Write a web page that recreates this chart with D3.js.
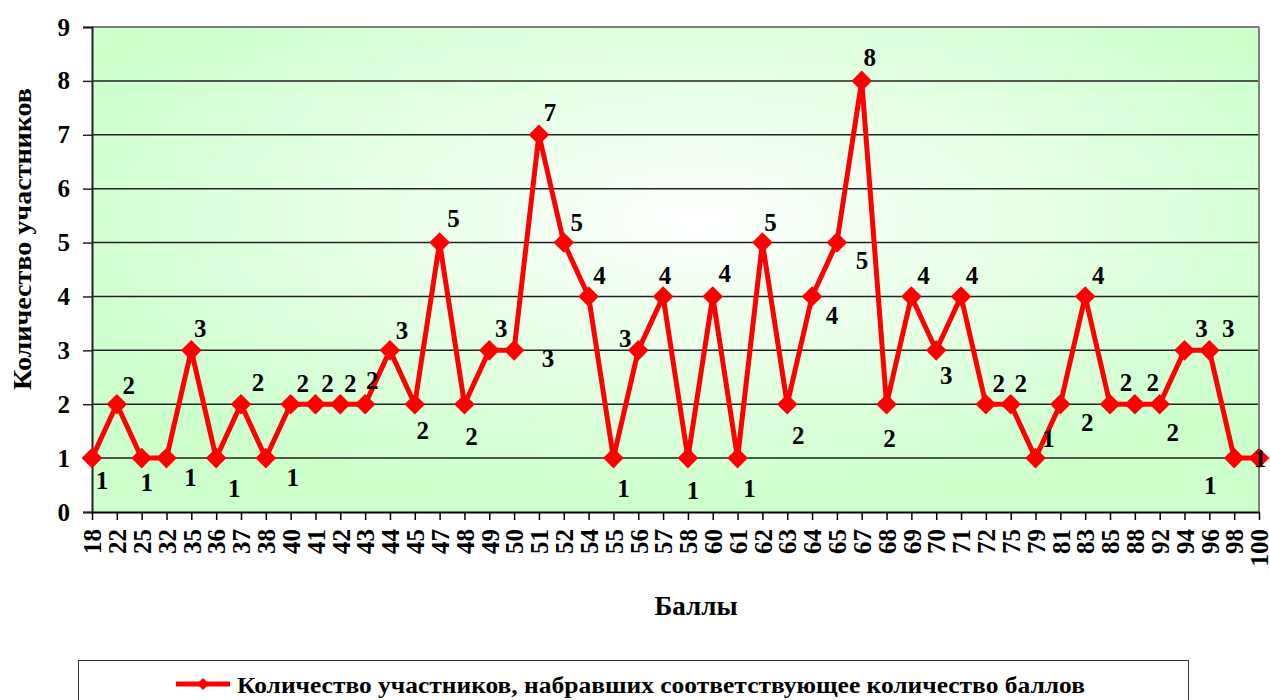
<!DOCTYPE html>
<html><head><meta charset="utf-8">
<script src="https://cdn.jsdelivr.net/npm/d3@7/dist/d3.min.js"></script>
<style>body{margin:0;background:#fff}svg{display:block}</style>
</head><body><svg id="c" width="1270" height="700" font-family="Liberation Serif" font-weight="bold"></svg>
<script>
const categories = ["18","22","25","32","35","36","37","38","40","41","42","43","44","45","47","48","49","50","51","52","54","55","56","57","58","60","61","62","63","64","65","67","68","69","70","71","72","75","79","81","83","85","88","92","94","96","98","100"];
const values = [1,2,1,1,3,1,2,1,2,2,2,2,3,2,5,2,3,3,7,5,4,1,3,4,1,4,1,5,2,4,5,8,2,4,3,4,2,2,1,2,4,2,2,2,3,3,1,1];
const yTicks = [0,1,2,3,4,5,6,7,8,9];
const seriesName = "Количество участников, набравших соответствующее количество баллов";
const xTitle = "Баллы";
const yTitle = "Количество участников";
// data-label nudges relative to each point (label placement as in the original)
const labelNudge = [[10,22],[12,-19],[5,24],[24,19],[9,-22],[18,30],[17,-22],[27,19],[12,-21],[12,-21],[10,-21],[7,-24],[12,-20],[8,26],[14,-24],[7,32],[12,-22],[34,8],[11,-22],[13,-20],[11,-21],[10,30],[-13,-12],[2,-21],[5,32],[12,-23],[12,30],[8,-20],[11,31],[20,19],[25,18],[8,-23],[3,34],[12,-21],[10,25],[11,-21],[13,-21],[10,-21],[13,-20],[27,18],[13,-21],[16,-22],[18,-22],[13,28],[17,-22],[19,-22],[-24,27],[1,0]];

const FONT = "Liberation Serif";
const svg = d3.select("#c");
const L=92,R=1259,T=27,B=512;
const x = d3.scalePoint().domain(categories).range([L,R]);
const y = d3.scaleLinear().domain([0,9]).range([B,T]);

const defs = svg.append("defs");
const g = defs.append("radialGradient").attr("id","bg").attr("cx","0.52").attr("cy","0.4").attr("r","0.6");
g.append("stop").attr("offset","0").attr("stop-color","#ffffff");
g.append("stop").attr("offset","0.2").attr("stop-color","#f3fff3");
g.append("stop").attr("offset","1").attr("stop-color","#ccffcc");
svg.append("rect").attr("x",L).attr("y",T).attr("width",R-L).attr("height",B-T).attr("fill","url(#bg)");

// gridlines
svg.append("g").selectAll("line").data(yTicks.filter(d=>d>0&&d<9)).join("line")
  .attr("x1",L).attr("x2",R).attr("y1",d=>y(d)).attr("y2",d=>y(d)).attr("stroke","#222").attr("stroke-width",1.5);
// border top/right
svg.append("line").attr("x1",L).attr("x2",R).attr("y1",T).attr("y2",T).attr("stroke","#808080").attr("stroke-width",2);
svg.append("line").attr("x1",R).attr("x2",R).attr("y1",T).attr("y2",B).attr("stroke","#808080").attr("stroke-width",2);

// y axis
const ya = svg.append("g").attr("transform",`translate(${L},0)`).call(d3.axisLeft(y).tickValues(yTicks).tickSize(9).tickPadding(13).tickFormat(d3.format("d")));
ya.attr("font-family",FONT).attr("font-size",25).attr("font-weight","bold");
ya.select(".domain").attr("stroke","#222").attr("stroke-width",2);
ya.selectAll(".tick line").attr("stroke","#222").attr("stroke-width",1.5);
ya.selectAll(".tick text").attr("fill","#000");

// x axis
const xa = svg.append("g").attr("transform",`translate(0,${B})`).call(d3.axisBottom(x).tickSize(8).tickSizeOuter(0));
xa.attr("font-family",FONT).attr("font-size",25).attr("font-weight","bold");
xa.select(".domain").attr("stroke","#000").attr("stroke-width",2);
xa.selectAll(".tick line").attr("stroke","#000").attr("stroke-width",1.5);
xa.selectAll(".tick text").attr("fill","#000")
  .attr("transform","rotate(-90)").attr("text-anchor","end").attr("dy","0.35em").attr("x",-17).attr("y",0);

// line + markers
const pts = categories.map((c,i)=>[x(c),y(values[i])]);
svg.append("path").attr("d",d3.line()(pts)).attr("fill","none").attr("stroke","#ff0000").attr("stroke-width",5).attr("stroke-linejoin","miter");
svg.append("g").selectAll("path").data(pts).join("path")
  .attr("transform",d=>`translate(${d[0]},${d[1]}) rotate(45)`).attr("d",d3.symbol().type(d3.symbolSquare2).size(270)).attr("fill","#ff0000");

// data labels
svg.append("g").attr("font-family",FONT).attr("font-size",25).attr("font-weight","bold")
  .selectAll("text").data(values).join("text")
  .attr("x",(d,i)=>pts[i][0]+labelNudge[i][0]).attr("y",(d,i)=>pts[i][1]+labelNudge[i][1])
  .attr("text-anchor","middle").attr("dominant-baseline","central").text(d=>d);

// titles
svg.append("text").attr("x",696).attr("y",615).attr("text-anchor","middle")
  .attr("font-family",FONT).attr("font-size",27).attr("font-weight","bold").text(xTitle);
svg.append("text").attr("transform","translate(31,239) rotate(-90)").attr("text-anchor","middle")
  .attr("textLength",302).attr("lengthAdjust","spacingAndGlyphs")
  .attr("font-family",FONT).attr("font-size",26).attr("font-weight","bold").text(yTitle);

// legend
svg.append("rect").attr("x",78.5).attr("y",660.5).attr("width",1110).attr("height",60).attr("fill","#fff").attr("stroke","#333").attr("stroke-width",1);
svg.append("line").attr("x1",176).attr("x2",230).attr("y1",684).attr("y2",684).attr("stroke","#ff0000").attr("stroke-width",5);
svg.append("path").attr("transform","translate(203,684) rotate(45)").attr("d",d3.symbol().type(d3.symbolSquare2).size(90)).attr("fill","#ff0000");
svg.append("text").attr("x",237).attr("y",693).attr("textLength",848).attr("lengthAdjust","spacingAndGlyphs")
  .attr("font-family",FONT).attr("font-size",23).attr("font-weight","bold").text(seriesName);
</script></body></html>
